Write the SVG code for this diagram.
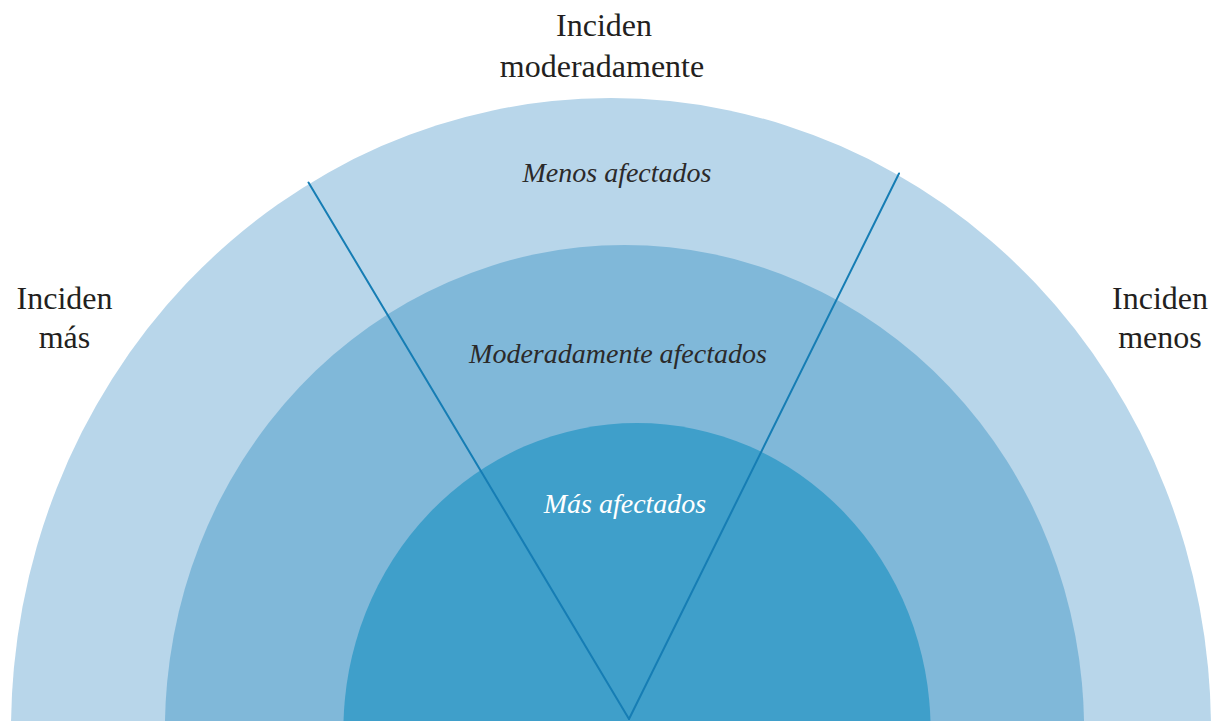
<svg xmlns="http://www.w3.org/2000/svg" width="1211" height="724" viewBox="0 0 1211 724">
  <style>
    .lbl { font-family: "Liberation Serif", "DejaVu Serif", serif; font-size: 32px; fill: #231f20; text-anchor: middle; }
    .zone { font-family: "Liberation Serif", "DejaVu Serif", serif; font-size: 28px; font-style: italic; fill: #2b2a2a; text-anchor: middle; }
    .zone.light { fill: #ffffff; }
    .div { stroke: #167db4; stroke-width: 2; fill: none; stroke-linecap: round; }
  </style>
  <defs>
    <clipPath id="clip">
      <rect x="0" y="0" width="1211" height="721"/>
    </clipPath>
  </defs>
  <rect width="1211" height="724" fill="#ffffff"/>
  <g clip-path="url(#clip)">
    <g id="outer">
      <ellipse cx="611" cy="730" rx="600" ry="632" fill="#b8d6ea"/>
    </g>
    <g id="middle">
      <ellipse cx="624.5" cy="730" rx="459.6" ry="485" fill="#80b8d9"/>
    </g>
    <g id="inner">
      <ellipse cx="637" cy="730" rx="293.6" ry="307" fill="#3f9fca"/>
    </g>
  </g>
  <g id="connectors">
    <line class="div" x1="629" y1="719" x2="308.5" y2="182.5"/>
    <line class="div" x1="629" y1="719" x2="899" y2="173.5"/>
  </g>
  <g id="label-top">
    <text class="lbl" x="604" y="36">Inciden</text>
    <text class="lbl" x="602" y="77">moderadamente</text>
  </g>
  <g id="label-left">
    <text class="lbl" x="64.5" y="309">Inciden</text>
    <text class="lbl" x="64.5" y="348">más</text>
  </g>
  <g id="label-right">
    <text class="lbl" x="1160" y="309">Inciden</text>
    <text class="lbl" x="1160" y="348">menos</text>
  </g>
  <g id="zone-menos">
    <text class="zone" x="617" y="182">Menos afectados</text>
  </g>
  <g id="zone-moderado">
    <text class="zone" x="618" y="363">Moderadamente afectados</text>
  </g>
  <g id="zone-mas">
    <text class="zone light" x="625" y="513">Más afectados</text>
  </g>
</svg>
